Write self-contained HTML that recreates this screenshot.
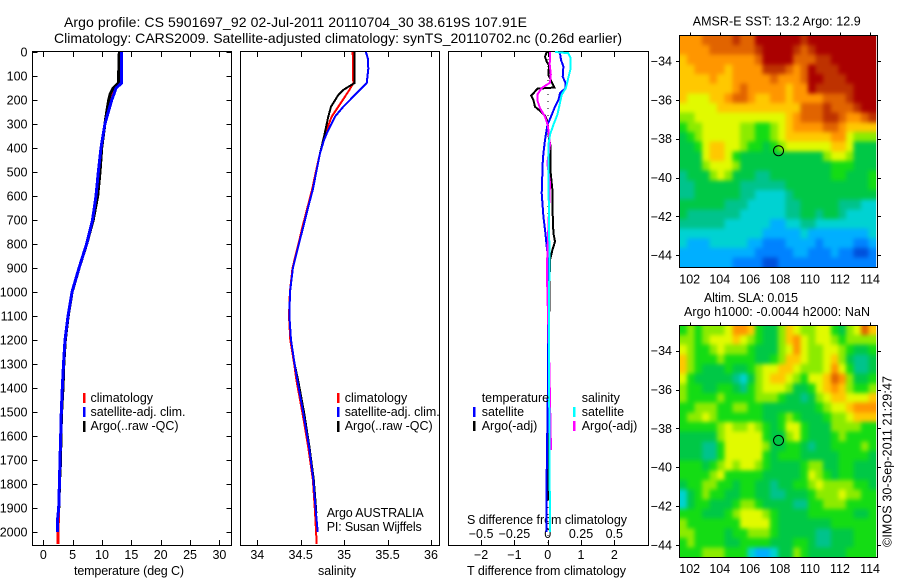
<!DOCTYPE html>
<html lang="en">
<head>
<meta charset="utf-8">
<title>Argo profile 5901697_92</title>
<style>
html,body{margin:0;padding:0;background:#fff;}
svg{display:block;}
text{font-family:"Liberation Sans",sans-serif;font-size:12.5px;fill:#000;}
.ttl{font-size:14px;}
</style>
</head>
<body>
<svg id="fig" xmlns="http://www.w3.org/2000/svg" width="900" height="580" viewBox="0 0 900 580">
  <defs>
    <filter id="soften" filterUnits="userSpaceOnUse" x="660" y="15" width="235" height="560" color-interpolation-filters="sRGB">
      <feGaussianBlur stdDeviation="2.2"/>
    </filter>
    <clipPath id="clip-sst"><rect x="679.3" y="35.3" width="196.9" height="232"/></clipPath>
    <clipPath id="clip-sla"><rect x="679.3" y="325.3" width="196.9" height="232"/></clipPath>
  </defs>
  <text class="ttl" x="64" y="27" textLength="463" lengthAdjust="spacing">Argo profile: CS 5901697_92 02-Jul-2011 20110704_30 38.619S 107.91E</text>
  <text class="ttl" x="54" y="43" textLength="568" lengthAdjust="spacing">Climatology: CARS2009. Satellite-adjusted climatology: synTS_20110702.nc (0.26d earlier)</text>

  <text x="74" y="575" textLength="110" lengthAdjust="spacing">temperature (deg C)</text>
  <text x="318" y="575" textLength="38" lengthAdjust="spacing">salinity</text>
  <text x="467" y="575" textLength="159" lengthAdjust="spacing">T difference from climatology</text>
  <text x="467" y="524" textLength="160" lengthAdjust="spacing">S difference from climatology</text>

  <g>
    <rect x="83" y="393" width="2.5" height="10" fill="#f00"/>
    <rect x="83" y="407" width="2.5" height="10" fill="#00f"/>
    <rect x="83" y="421" width="2.5" height="11" fill="#000"/>
    <text x="90.5" y="402">climatology</text>
    <text x="90.5" y="416" textLength="95" lengthAdjust="spacing">satellite-adj. clim.</text>
    <text x="90.5" y="430" textLength="88" lengthAdjust="spacing">Argo(..raw -QC)</text>
  </g>
  <g>
    <rect x="337" y="393" width="2.5" height="10" fill="#f00"/>
    <rect x="337" y="407" width="2.5" height="10" fill="#00f"/>
    <rect x="337" y="421" width="2.5" height="11" fill="#000"/>
    <text x="344.7" y="402">climatology</text>
    <text x="344.7" y="416" textLength="95" lengthAdjust="spacing">satellite-adj. clim.</text>
    <text x="344.7" y="430" textLength="88" lengthAdjust="spacing">Argo(..raw -QC)</text>
  </g>
  <text x="326.7" y="517" textLength="97" lengthAdjust="spacing">Argo AUSTRALIA</text>
  <text x="326.7" y="531" textLength="95" lengthAdjust="spacing">PI: Susan Wijffels</text>
</svg>
<script>
// ---- tick labels ----
const depthTicks = [0,100,200,300,400,500,600,700,800,900,1000,1100,1200,1300,1400,1500,1600,1700,1800,1900,2000];
const tempTicks = [0,5,10,15,20,25,30];
const salTicks = [34,34.5,35,35.5,36];
const dTempTicks = [-2,-1,0,1,2];
const dSalTicks = [-0.5,-0.25,0,0.25,0.5];
const lonTicks = [102,104,106,108,110,112,114];
const latTicks = [-34,-36,-38,-40,-42,-44];

// ---- temperature panel ----
const tempDepthsClim = [0,130,150,175,200,250,300,400,500,600,700,800,900,1000,1100,1200,1300,1400,1500,1600,1700,1800,1900,2000,2050];
const tempClim = [13.1,13,12.1,11.7,11.4,10.9,10.5,9.83,9.4,8.98,8.39,7.37,6.08,4.89,4.21,3.7,3.44,3.24,3.07,2.96,2.85,2.74,2.62,2.5,2.5];
const tempDepthsSat = [0,110,130,150,175,200,250,300,400,500,600,700,800,900,1000,1100,1200,1300,1400,1500,1600,1700,1800,1900,1955,2000];
const tempSat = [13.35,13.35,13.3,12.4,12.05,11.65,11.07,10.5,9.83,9.37,8.98,8.39,7.37,6.08,4.89,4.21,3.7,3.44,3.24,3.07,2.96,2.85,2.74,2.62,2.4,2.4];
const tempDepthsArgo = [0,130,150,175,200,250,300,400,500,600,700,800,900,1000,1100,1200,1300,1400,1500,1600,1700,1800,1900];
const tempArgo = [12.95,12.8,11.9,11.4,11.14,10.8,10.5,9.95,9.66,9.27,8.5,7.4,6.1,4.9,4.25,3.75,3.5,3.35,3.12,3.0,2.95,2.75,2.68];

// ---- salinity panel ----
const salDepthsArgo = [0,130,158,179,228,269,353,422,506,575,644,728,783,900,1000,1100,1200,1300,1367,1505,1644,1783,1922];
const salArgo = [35.117,35.117,34.99,34.933,34.849,34.818,34.768,34.722,34.676,34.638,34.587,34.53,34.49,34.41,34.377,34.37,34.388,34.43,34.47,34.54,34.6,34.65,34.68];
const salDepthsClim = [0,130,158,186,228,269,353,422,506,575,644,728,783,900,1000,1100,1200,1300,1367,1505,1644,1783,1922,2050];
const salClim = [35.098,35.105,35.06,35.01,34.933,34.857,34.768,34.722,34.67,34.63,34.58,34.52,34.485,34.405,34.375,34.365,34.38,34.425,34.45,34.52,34.585,34.64,34.665,34.684];
const salDepthsSat = [0,28,70,130,151,186,228,269,339,367,422,506,575,644,728,783,900,1000,1100,1200,1300,1367,1505,1644,1783,1922,2000];
const salSat = [35.25,35.274,35.278,35.26,35.2,35.105,34.99,34.895,34.8,34.768,34.722,34.676,34.638,34.587,34.53,34.49,34.41,34.377,34.37,34.388,34.43,34.46,34.53,34.595,34.645,34.676,34.695];

// ---- difference panel ----
const dTempDepthsArgo = [0,20,40,55,95,110,148,153,172,182,200,228,248,265,288,358,396,504,575,646,754,790,825,867,992,1242,1658,1867];
const dTempArgo = [-0.03,-0.08,-0.03,0.04,0.02,0.07,0.2,-0.31,-0.43,-0.5,-0.43,-0.38,-0.21,-0.08,-0.01,0.04,0.09,0.09,0.14,0.14,0.17,0.22,0.14,0.07,0.05,0.04,0.02,0.01];
const dTempDepthsSat = [5,33,61,103,130,151,172,200,228,262,304,367,422,463,588,686,754,811,867,1367,1754,2000];
const dTempSat = [0.37,0.40,0.47,0.45,0.54,0.53,0.37,0.32,0.22,0.12,-0.01,-0.08,-0.13,-0.15,-0.18,-0.13,-0.07,-0.03,0.02,0.01,-0.03,-0.03];
const dSalDepthsArgo = [0,53,94,128,150,178,206,234,269,304,345,387,463,546,908,1300,1450,1658];
const dSalArgo = [0.017,0.015,0.023,0.017,-0.045,-0.078,-0.075,-0.058,-0.02,0,0.01,0.017,-0.003,0.017,-0.007,0.012,0.017,0.025];
const dSalDepthsSat = [0,5,25,67,108,150,178,220,262,304,345,387,500,800,900,1300,2000];
const dSalSat = [0.055,0.155,0.173,0.173,0.155,0.137,0.105,0.089,0.072,0.042,0.017,0.005,0.005,0.012,0.012,0.01,0.017];

// ---- map grids (colour level per 0.5 degree cell, north to south) ----
const sstGrid = [
[10,10,10,11,11,11,11,12,11,11,13,13,13,13,13,13,12,13,13,13,13,13,13,13,13,13],
[10,10,10,10,11,11,11,11,11,11,12,13,13,13,13,12,11,12,13,13,13,13,13,13,13,13],
[9,10,10,10,10,10,10,10,10,10,11,13,13,13,13,11,11,11,12,12,13,13,13,13,13,13],
[9,9,10,10,10,10,9,10,10,10,10,12,12,12,11,10,11,13,12,12,12,13,13,13,13,13],
[9,9,9,9,10,9,9,10,10,10,10,10,11,10,10,10,11,13,13,12,12,12,13,13,13,13],
[9,9,9,9,9,9,9,10,11,10,10,10,10,10,9,10,10,13,12,12,12,12,12,13,13,13],
[9,8,8,8,9,9,10,11,11,10,9,9,10,10,9,10,10,10,10,11,11,11,12,13,13,13],
[8,8,8,8,8,9,9,9,9,9,9,9,9,9,9,9,11,11,11,12,11,11,11,12,13,13],
[7,7,8,8,8,8,8,8,8,8,8,8,8,8,9,10,11,11,11,12,12,11,10,10,11,12],
[6,7,7,8,8,8,8,8,7,7,6,6,7,8,9,10,10,10,10,11,11,10,9,9,9,9],
[5,6,7,8,8,8,8,8,7,7,6,6,7,8,9,9,9,9,9,9,10,10,8,7,7,7],
[5,5,6,8,9,9,8,8,7,6,6,5,6,7,8,8,8,8,8,8,9,9,8,5,5,5],
[5,5,5,8,9,9,8,6,5,5,5,5,5,5,5,5,5,5,5,7,8,8,7,5,5,5],
[5,5,5,7,8,8,8,7,5,5,5,5,5,5,5,5,5,5,5,5,6,6,6,5,5,5],
[4,5,5,5,7,8,7,5,5,5,4,4,5,5,5,5,5,5,5,5,6,6,5,5,5,6],
[4,4,5,5,5,5,5,5,4,4,4,4,4,4,5,5,5,5,5,5,5,5,5,5,5,6],
[4,4,5,5,5,5,5,5,4,4,3,3,3,3,4,5,5,5,5,5,5,5,5,5,5,5],
[5,5,5,5,5,5,4,4,4,3,3,3,3,3,4,4,5,5,5,5,5,4,4,4,3,3],
[5,4,4,4,4,4,4,4,3,3,3,3,3,3,4,4,5,5,4,5,5,4,3,3,3,3],
[4,4,4,4,4,4,3,3,3,3,3,3,2,2,3,3,4,4,3,3,3,3,3,3,3,3],
[3,3,3,3,3,3,3,3,3,3,3,2,2,2,2,2,3,2,2,2,2,2,2,2,2,3],
[3,2,2,2,3,3,3,3,3,2,2,1,1,1,2,2,2,2,1,2,2,2,2,1,1,2],
[2,2,2,2,2,2,2,2,2,2,1,1,1,1,1,2,2,1,1,1,2,1,1,0,0,1],
[2,2,2,2,2,2,2,1,1,1,1,0,0,1,1,1,1,1,1,1,1,1,1,1,1,1]
];
const slaGrid = [
[6,7,6,7,7,7,8,10,10,9,6,5,5,7,9,8,7,7,8,8,6,5,7,8,11,9],
[7,7,6,7,8,8,8,9,8,7,6,5,5,7,9,10,8,7,8,8,7,6,7,7,7,7],
[8,7,6,6,7,8,7,7,7,6,5,5,5,7,8,10,8,7,7,8,8,7,6,5,5,6],
[9,7,6,6,6,7,6,6,6,6,5,5,6,7,9,9,8,7,7,8,9,7,5,4,4,5],
[9,7,6,5,5,5,6,5,5,6,7,8,8,9,9,8,7,7,7,8,10,8,6,4,4,5],
[8,6,5,5,5,5,5,4,3,5,7,8,9,9,8,7,6,8,8,9,11,10,7,5,5,6],
[7,6,6,5,5,6,6,5,4,6,7,8,8,8,7,5,5,6,8,9,10,9,7,6,6,7],
[7,6,6,6,6,7,6,6,6,6,7,7,7,6,5,5,4,5,7,8,9,9,8,8,8,9],
[6,6,7,7,7,6,6,7,7,6,6,5,5,5,5,5,5,5,6,7,8,8,9,10,10,10],
[6,7,7,8,7,6,6,6,6,6,6,5,5,6,7,6,5,5,5,6,7,7,8,9,9,9],
[6,6,6,6,6,7,8,7,7,8,7,6,5,6,8,8,6,5,5,5,7,7,7,7,6,6],
[5,5,5,5,5,7,8,8,8,8,8,6,5,5,7,8,6,5,5,5,6,7,6,6,6,6],
[5,5,5,4,4,6,8,8,8,8,8,7,5,5,6,6,5,4,5,5,6,6,6,6,7,6],
[5,5,5,4,4,6,8,8,8,8,8,6,5,6,6,6,5,5,5,5,5,6,6,6,6,5],
[6,6,6,5,6,7,8,7,8,8,7,6,5,5,5,5,6,7,7,5,5,6,6,5,5,5],
[6,6,6,6,7,8,6,6,6,6,6,5,5,5,5,5,6,8,7,6,5,6,6,5,5,5],
[5,6,6,7,7,6,6,5,6,6,5,5,4,5,5,6,6,7,8,7,7,7,7,6,6,5],
[3,5,6,7,6,6,5,5,6,6,5,5,4,4,5,5,5,6,7,7,7,8,7,7,6,6],
[3,5,6,6,5,5,5,6,7,7,6,5,5,5,5,4,4,6,6,7,7,7,6,6,6,6],
[6,6,6,5,5,5,6,7,8,8,8,7,6,5,5,5,5,6,6,6,6,6,6,5,5,6],
[7,6,6,6,6,6,6,6,8,8,8,8,6,5,5,5,5,5,5,5,6,6,6,6,6,6],
[7,7,6,6,6,6,5,6,6,7,7,7,6,5,5,5,5,5,4,4,5,5,5,6,6,6],
[6,7,6,6,6,6,5,5,6,6,6,6,5,5,5,6,6,5,4,4,5,5,5,6,6,6],
[6,6,6,7,7,7,6,6,6,3,2,2,3,5,5,7,6,5,5,5,5,5,6,6,6,6]
];
const argoLon = 107.91;
const argoLat = -38.619;

const colourLevels = ['#0050dc','#0082ff','#00afff','#00d2d2','#00c38c','#00c846','#14dc14','#8ceb00','#e1fa00','#ffc800','#ff9600','#e16400','#be3200','#aa0000'];

const svg = document.getElementById('fig');
const NS = 'http://www.w3.org/2000/svg';
function mk(tag, attrs, parent) {
  const el = document.createElementNS(NS, tag);
  for (const k in attrs) el.setAttribute(k, attrs[k]);
  (parent || svg).appendChild(el);
  return el;
}
const fmt = v => String(v).replace('-', '\u2212');

// axis functions
const top0 = 52, bottom0 = 545;
const yDepth = d => 52 + d * 0.24;
const xTemp = t => 43.3 + t * 5.87;
const xSal = s => 257.3 + (s - 34) * 86.85;
const xDT = t => 547.7 + t * 33.3;
const xDS = s => 547.7 + s * 133.2;

const panels = [
  {name:'temperature', l:32.5, r:231.5},
  {name:'salinity', l:240.5, r:439.5},
  {name:'difference', l:448.5, r:648.5}
];

function line(x1,y1,x2,y2,parent){
  return mk('line',{x1,y1,x2,y2,stroke:'#000','stroke-width':1,'shape-rendering':'crispEdges'},parent);
}

function drawPanel(p){
  const g = mk('g',{});
  
  
  const box = mk('rect',{x:p.l,y:top0-0.5,width:p.r-p.l,height:bottom0-top0+1,fill:'none',stroke:'#000','stroke-width':1,'shape-rendering':'crispEdges'},g);
  
  
  return g;
}
const gT = drawPanel(panels[0]);
const gS = drawPanel(panels[1]);
const gD = drawPanel(panels[2]);

// depth ticks (first panel only carries them)
depthTicks.forEach(d => {
  const y = Math.round(yDepth(d)) + 0.5;
  const a = line(panels[0].l, y, panels[0].l + 5, y, gT);
  
  
  const b = line(panels[0].r - 5, y, panels[0].r, y, gT);
  
  
  const t = mk('text',{x:27.5,y:yDepth(d)+4.5,'text-anchor':'end'},gT);
  t.textContent = d;
  
  
});

function xTicks(vals, fx, g, nm, labelY){
  vals.forEach(v => {
    const x = Math.round(fx(v)) + 0.5;
    const a = line(x, bottom0 - 5, x, bottom0, g);
    
    
    const t = mk('text',{x:fx(v),y:labelY,'text-anchor':'middle'},g);
    t.textContent = fmt(v);
    
    
  });
}
function topTicks(vals, fx, g, nm){
  vals.forEach(v => {
    const x = Math.round(fx(v)) + 0.5;
    const a = line(x, top0, x, top0 + 5, g);
    
    
  });
}
xTicks(tempTicks, xTemp, gT, 'temperature', 559);
topTicks(tempTicks, xTemp, gT, 'temperature');
xTicks(salTicks, xSal, gS, 'salinity', 559);
topTicks(salTicks, xSal, gS, 'salinity');
xTicks(dTempTicks, xDT, gD, 't-difference', 559);
topTicks(dTempTicks, xDT, gD, 't-difference');
dSalTicks.forEach(v => {
  const t = mk('text',{x:xDS(v),y:538,'text-anchor':'middle'},gD);
  t.textContent = fmt(v);
  
  
});

function series(depths, vals, fx, colour, g, nm, w){
  const pts = vals.map((v,i) => fx(v).toFixed(1) + ',' + yDepth(depths[i]).toFixed(1)).join(' ');
  const pl = mk('polyline',{points:pts,fill:'none',stroke:colour,'stroke-width':w||2,'stroke-linejoin':'miter','shape-rendering':'crispEdges'},g);
  
  
}
series(tempDepthsClim, tempClim, xTemp, '#f00', gT, 'temperature-climatology-line', 3);
series(tempDepthsArgo, tempArgo, xTemp, '#000', gT, 'temperature-argo-line', 3);
series(tempDepthsSat, tempSat, xTemp, '#00f', gT, 'temperature-satellite-line', 3);
series(salDepthsClim, salClim, xSal, '#f00', gS, 'salinity-climatology-line', 2);
series(salDepthsArgo, salArgo, xSal, '#000', gS, 'salinity-argo-line', 2);
series(salDepthsSat, salSat, xSal, '#00f', gS, 'salinity-satellite-line', 2);

const zero = mk('line',{x1:548,y1:top0,x2:548,y2:bottom0,stroke:'#000','stroke-width':1,'stroke-dasharray':'1 6'},gD);


series(dTempDepthsArgo, dTempArgo, xDT, '#000', gD, 't-difference-argo-line', 2);
series(dTempDepthsSat, dTempSat, xDT, '#00f', gD, 't-difference-satellite-line', 2);
series(dSalDepthsArgo, dSalArgo, xDS, '#f0f', gD, 's-difference-argo-line', 2);
series(dSalDepthsSat, dSalSat, xDS, '#0ff', gD, 's-difference-satellite-line', 2);

// difference-panel legend sits above the lines
const diffLegend = [
  ['temperature',481.7,402,null,null],
  ['satellite',481.7,416,474,'#00f'],
  ['Argo(-adj)',481.7,430,474,'#000'],
  ['salinity',581.7,402,null,null],
  ['satellite',581.7,416,574,'#0ff'],
  ['Argo(-adj)',581.7,430,574,'#f0f']
];
diffLegend.forEach(row => {
  const t = mk('text',{x:row[1],y:row[2]},gD);
  t.textContent = row[0];
  
  
  if (row[3] !== null) {
    const s = mk('rect',{x:row[3]-1,y:row[2]-9,width:2.5,height:10,fill:row[4]},gD);
    
    
  }
});

// maps
function drawMap(grid, nm, top, bottom, lat34, labelY){
  const left = 679.3, right = 876.2, pad = 10;
  const lonX = lon => 689.7 + (lon - 102) * 15.03;
  const latY = lat => lat34 + (-34 - lat) * 19.42;
  const g = mk('g',{});
  
  
  const field = mk('g',{filter:'url(#soften)','clip-path':'url(#clip-' + nm + ')'},g);
  
  
  const lon0 = 102 + (left - 689.7) / 15.03, lon1 = 102 + (right - 689.7) / 15.03;
  const lat0 = -34 - (top - lat34) / 19.42, lat1 = -34 - (bottom - lat34) / 19.42;
  const nr = grid.length, nc = grid[0].length;
  const dLon = (lon1 - lon0) / nc, dLat = (lat0 - lat1) / nr;
  grid.forEach((row, r) => row.forEach((v, c) => {
    const x0 = lonX(lon0 + c * dLon) - (c === 0 ? pad : 0);
    const x1 = lonX(lon0 + (c + 1) * dLon) + (c === nc - 1 ? pad : 0);
    const y0 = latY(lat0 - r * dLat) - (r === 0 ? pad : 0);
    const y1 = latY(lat0 - (r + 1) * dLat) + (r === nr - 1 ? pad : 0);
    const cell = mk('rect',{x:x0,y:y0,width:x1-x0,height:y1-y0,fill:colourLevels[Math.max(0,Math.min(13,Math.round(v)))],'shape-rendering':'crispEdges'},field);
    
    
  }));
  const frame = mk('rect',{x:679.5,y:Math.round(top)+0.5,width:198,height:Math.round(bottom-top),fill:'none',stroke:'#000','stroke-width':1,'shape-rendering':'crispEdges'},g);
  
  
  lonTicks.forEach(v => {
    const x = Math.round(lonX(v)) + 0.5;
    const a = line(x, top - 3, x, top, g);
    
    
    const t = mk('text',{x:lonX(v),y:labelY,'text-anchor':'middle'},g);
    t.textContent = v;
    
    
  });
  latTicks.forEach(v => {
    const y = Math.round(latY(v)) + 0.5;
    const a = line(676, y, 679.5, y, g);
    
    
    const b = line(877.5, y, 881, y, g);
    
    
    const t = mk('text',{x:672,y:latY(v)+4.5,'text-anchor':'end'},g);
    t.textContent = fmt(v);
    
    
  });
  const c = mk('circle',{cx:lonX(argoLon),cy:latY(argoLat),r:5,fill:'none',stroke:'#000','stroke-width':1},g);
  
  
}
drawMap(sstGrid, 'sst', 35.3, 267.3, 61, 283.5);
drawMap(slaGrid, 'sla', 325.3, 557.3, 350.7, 573);

const mapTitles = [
  ['AMSR-E SST: 13.2 Argo: 12.9',692.7,25.5,168,'sst-map-title'],
  ['Altim. SLA: 0.015',704,302,94,'sla-map-title'],
  ['Argo h1000: -0.0044 h2000: NaN',684,316,186,'argo-height-title']
];
mapTitles.forEach(m => {
  const t = mk('text',{x:m[1],y:m[2],textLength:m[3],lengthAdjust:'spacing'});
  t.textContent = m[0];
  
  
});
const stamp = mk('text',{transform:'translate(891.5,547) rotate(-90)',textLength:171,lengthAdjust:'spacing'});
stamp.textContent = '\u00A9IMOS 30-Sep-2011 21:29:47';


</script>
</body>
</html>
